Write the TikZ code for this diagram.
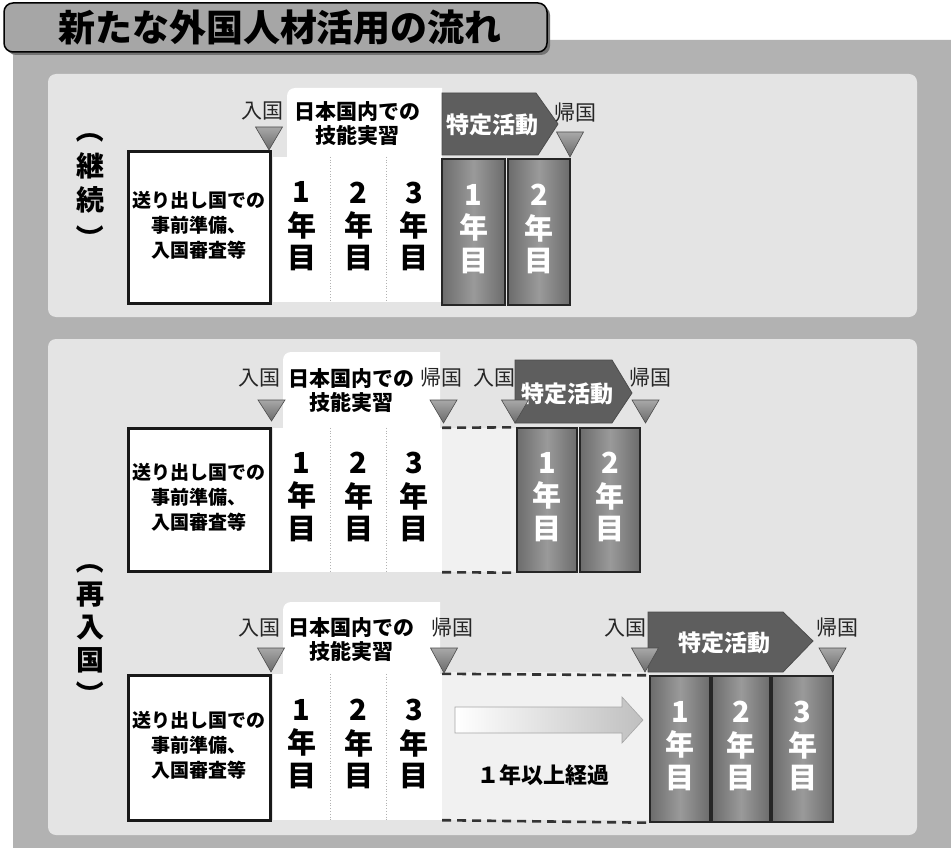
\documentclass[tikz,border=0pt]{standalone}
\usepackage{fontspec}
\setmainfont{Noto Sans CJK JP}
\definecolor{framegray}{HTML}{B2B2B2}
\definecolor{panelgray}{HTML}{E4E4E4}
\definecolor{titlegray}{HTML}{A6A6A6}
\definecolor{dcolA}{HTML}{6C6C6C}
\definecolor{dcolB}{HTML}{9A9A9A}
\definecolor{arrowgray}{HTML}{5E5E5E}
\definecolor{trigrayA}{HTML}{A8A8A8}
\definecolor{trigrayB}{HTML}{6A6A6A}
\definecolor{gapgray}{HTML}{F1F1F1}
\newcommand\yr[1]{\begin{tabular}{@{}c@{}}#1\\年\\目\end{tabular}}
\newcommand\prepText{\begin{tabular}{@{}c@{}}送り出し国での\\事前準備、\\入国審査等\end{tabular}}
\tikzset{
  panel/.style={fill=panelgray, rounded corners=8pt},
  jlab/.style={font=\fontsize{21}{21}\selectfont, text=black!85, inner sep=0pt},
  bnr/.style={font=\bfseries\fontsize{21}{24}\selectfont, align=center, inner sep=0pt},
  bnrbg/.style={fill=white},
  prep/.style={draw=black!90, line width=3pt, fill=white, inner sep=0pt,
    font=\bfseries\fontsize{19}{25}\selectfont},
  wcol/.style={fill=white, inner sep=0pt, font=\bfseries\fontsize{29}{29}\selectfont},
  dcol/.style={draw=black!85, line width=1.4pt, left color=dcolA, right color=dcolA,
    middle color=dcolB, inner sep=0pt, text=white, font=\bfseries\fontsize{29}{29}\selectfont},
  sepline/.style={draw=black!30, line width=0.8pt, dotted},
  side/.style={font=\bfseries\fontsize{28}{28}\selectfont, inner sep=0pt},
  paren/.style={side, rotate=-90},
  trist/.style={draw=black!70, line width=0.6pt, top color=trigrayA, bottom color=trigrayB},
  tok/.style={fill=arrowgray, draw=black!70, line width=0.8pt},
  tokt/.style={font=\bfseries\fontsize{23}{23}\selectfont, inner sep=0pt, text=white},
  gapdash/.style={line width=2.6pt, dash pattern=on 9pt off 6pt, draw=black!80},
  elapse/.style={draw=black!35, line width=0.6pt, left color=white, right color=black!25},
}
\newcommand\tri[3]{\path[trist] (#1-13.5,#2) -- (#1+13.5,#2) -- (#1,#3) -- cycle;}
\begin{document}
\begin{tikzpicture}[x=1pt,y=-1pt]
\useasboundingbox (0,0) rectangle (951,848);
\fill[white] (0,0) rectangle (951,848);
% outer frame
\fill[framegray, rounded corners=14pt] (13,40) rectangle (965,865);
% title tab
\fill[black!55, rounded corners=9pt] (7,6) rectangle (550,55);
\path[fill=titlegray, draw=black, line width=1.5pt, rounded corners=9pt] (4,3) rectangle (547,52);
\node[font=\bfseries\fontsize{37}{37}\selectfont, inner sep=0pt] (title) at (280,28)
  {新たな外国人材活用の流れ};
% panels
\fill[panel] (48,74) rectangle (917,317);
\fill[panel] (48,339) rectangle (917,835);

% ---------- side labels
\node[paren] (kA) at (90,130) {（};
\node[side] (kB) at (90,166) {継};
\node[side] (kC) at (90,200) {続};
\node[paren] (kD) at (90,238) {）};
\node[paren] (rA) at (90,560) {（};
\node[side] (rB) at (90,595) {再};
\node[side] (rC) at (90,628) {入};
\node[side] (rD) at (90,660) {国};
\node[paren] (rE) at (90,694) {）};

% ================= row A (継続)
\fill[bnrbg] (287,157) [rounded corners=8pt] -- (287,88) [sharp corners] -- (442,88) -- (442,157) -- cycle;
\node[prep, minimum width=142pt, minimum height=151pt] (prepA) at (199,227.5) {\prepText};
\node[wcol, minimum width=57.5pt, minimum height=145pt] (wA1) at (301.75,229.5) {\yr{1}};
\node[wcol, minimum width=56pt, minimum height=145pt] (wA2) at (358.5,229.5) {\yr{2}};
\node[wcol, minimum width=55.5pt, minimum height=145pt] (wA3) at (414.25,229.5) {\yr{3}};
\draw[sepline] (wA1.north east) -- (wA1.south east);
\draw[sepline] (wA2.north east) -- (wA2.south east);
\node[dcol, minimum width=63pt, minimum height=146pt] (dA1) at (473.5,232) {\yr{1}};
\node[dcol, minimum width=62pt, minimum height=146pt] (dA2) at (539,232) {\yr{2}};
\path[tok] (442,93) -- (536,93) -- (558,124) -- (538,155) -- (442,155) -- cycle;
\node[tokt] (tA) at (492,125) {特定活動};
\node[bnr] (bA) at (357,124) {日本国内での\\技能実習};
\node[jlab] (inA) at (262,111) {入国};
\node[jlab] (outA) at (575,113) {帰国};
\tri{269}{127}{150}
\tri{570}{132}{157}

% ================= row B (再入国, 1)
\fill[bnrbg] (283,428) [rounded corners=8pt] -- (283,352) [sharp corners] -- (440,352) -- (440,428) -- cycle;
\fill[gapgray] (442,428) rectangle (516,572);
\node[prep, minimum width=142pt, minimum height=143pt] (prepB) at (199,499.5) {\prepText};
\node[wcol, minimum width=57.5pt, minimum height=144pt] (wB1) at (301.75,500) {\yr{1}};
\node[wcol, minimum width=56pt, minimum height=144pt] (wB2) at (358.5,500) {\yr{2}};
\node[wcol, minimum width=55.5pt, minimum height=144pt] (wB3) at (414.25,500) {\yr{3}};
\draw[sepline] (wB1.north east) -- (wB1.south east);
\draw[sepline] (wB2.north east) -- (wB2.south east);
\node[dcol, minimum width=60pt, minimum height=144pt] (dB1) at (547,500) {\yr{1}};
\node[dcol, minimum width=60pt, minimum height=144pt] (dB2) at (610,500) {\yr{2}};
\draw[gapdash] (wB3.north east) -- (dB1.north west);
\draw[gapdash] (wB3.south east) -- (dB1.south west);
\path[tok] (515,360) -- (612,360) -- (632,393) -- (612,423) -- (515,423) -- cycle;
\node[tokt] (tB) at (567,394) {特定活動};
\node[bnr] (bB) at (351,391) {日本国内での\\技能実習};
\node[jlab] (inB) at (259,378) {入国};
\node[jlab] (outB) at (441,378) {帰国};
\node[jlab] (inB2) at (494,378) {入国};
\node[jlab] (outB2) at (650,378) {帰国};
\tri{271.5}{400}{421}
\tri{443.5}{400}{423}
\tri{515}{400}{423}
\tri{645.5}{400}{423}

% ================= row C (再入国, 2)
\fill[bnrbg] (283,674) [rounded corners=8pt] -- (283,602) [sharp corners] -- (440,602) -- (440,674) -- cycle;
\fill[gapgray] (442,672) rectangle (650,820);
\node[prep, minimum width=142pt, minimum height=145pt] (prepC) at (199,747.5) {\prepText};
\node[wcol, minimum width=57.5pt, minimum height=146pt] (wC1) at (301.75,747) {\yr{1}};
\node[wcol, minimum width=56pt, minimum height=146pt] (wC2) at (358.5,747) {\yr{2}};
\node[wcol, minimum width=55.5pt, minimum height=146pt] (wC3) at (414.25,747) {\yr{3}};
\draw[sepline] (wC1.north east) -- (wC1.south east);
\draw[sepline] (wC2.north east) -- (wC2.south east);
\node[dcol, minimum width=60pt, minimum height=146pt] (dC1) at (680,749) {\yr{1}};
\node[dcol, minimum width=58pt, minimum height=146pt] (dC2) at (741,749) {\yr{2}};
\node[dcol, minimum width=61pt, minimum height=146pt] (dC3) at (802.5,749) {\yr{3}};
\draw[gapdash] (wC3.north east) -- (dC1.north west);
\draw[gapdash] (wC3.south east) -- (dC1.south west);
\path[elapse] (455,707) -- (622,707) -- (622,697) -- (643,720) -- (622,743) -- (622,733) -- (455,733) -- cycle;
\node[font=\bfseries\fontsize{22}{22}\selectfont, inner sep=0pt] (elapsed) at (543,775) {１年以上経過};
\path[tok] (648,612) -- (783,612) -- (813,641) -- (783,672) -- (648,672) -- cycle;
\node[tokt] (tC) at (724,643) {特定活動};
\node[bnr] (bC) at (351,640) {日本国内での\\技能実習};
\node[jlab] (inC) at (259,628) {入国};
\node[jlab] (outC) at (452,628) {帰国};
\node[jlab] (inC2) at (625,628) {入国};
\node[jlab] (outC2) at (837,628) {帰国};
\tri{271}{648}{672}
\tri{444}{648}{673}
\tri{645}{648}{672}
\tri{832.5}{648}{672}
\end{tikzpicture}
\end{document}
